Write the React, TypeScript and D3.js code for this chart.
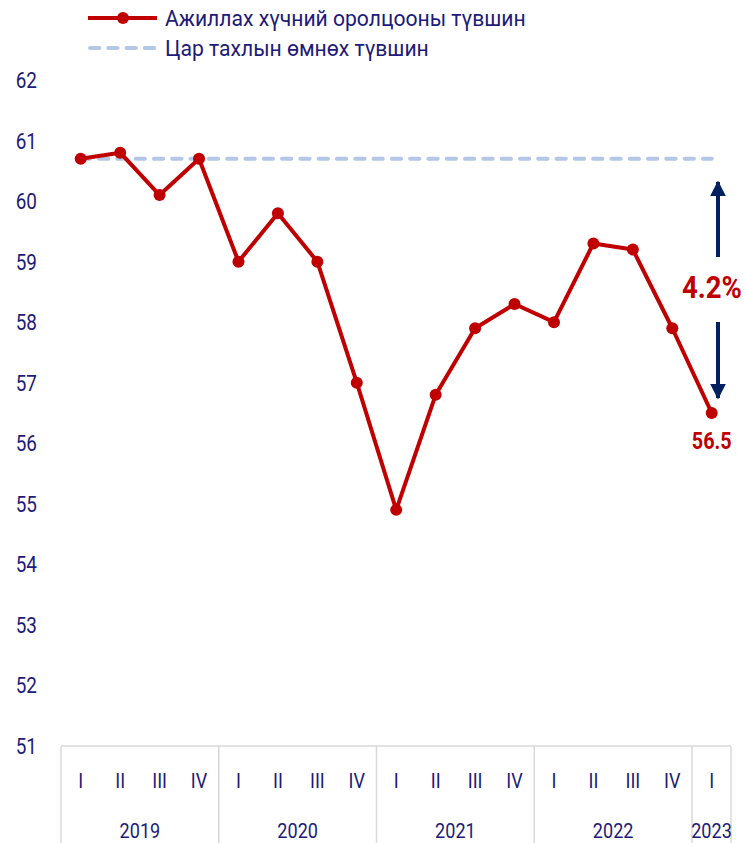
import React from "react";
import * as d3 from "d3";

const quarters = ["I", "II", "III", "IV", "I", "II", "III", "IV", "I", "II", "III", "IV", "I", "II", "III", "IV", "I"];
const years = ["2019", "2020", "2021", "2022", "2023"];
const yearCounts = [4, 4, 4, 4, 1];
const participation = [60.7, 60.8, 60.1, 60.7, 59.0, 59.8, 59.0, 57.0, 54.9, 56.8, 57.9, 58.3, 58.0, 59.3, 59.2, 57.9, 56.5];
const preCovidLevel = 60.7;
const yTicks = [51, 52, 53, 54, 55, 56, 57, 58, 59, 60, 61, 62];
const legendLabels = ["Ажиллах хүчний оролцооны түвшин", "Цар тахлын өмнөх түвшин"];
const gapLabel = "4.2%";
const lastLabel = "56.5";

const W = 745, H = 843;
const left = 61, right = 731, top = 80, bottom = 746;
const RED = "#C00000";
const BLUE = "#B4C7E7";
const NAVY = "#201A78";
const ARROW = "#002060";
const FONT = "Roboto, 'Noto Sans', sans-serif";
const SX = 0.86;

function CText({ x, y, anchor = "start", children, size, weight = 400, fill = NAVY, sx = SX }: any) {
  return (
    <text transform={`translate(${x},${y}) scale(${sx},1)`} textAnchor={anchor} fontSize={size} fontWeight={weight} fill={fill} fontFamily={FONT}>
      {children}
    </text>
  );
}

export default function App() {
  const idx = participation.map((_, i) => i);
  const bw = (692 - left) / 16;
  const xs = d3.scaleBand<number>().domain(idx).range([left, left + bw * 17]);
  const y = d3.scaleLinear().domain([51, 62]).range([bottom, top]);
  const cx = (i: number) => (xs(i) as number) + xs.bandwidth() / 2;
  const line = d3.line<number>().x((_, i) => cx(i)).y((d) => y(d));

  const yearBounds: number[] = [];
  let acc = 0;
  yearBounds.push(xs(0) as number);
  yearCounts.forEach((c) => {
    acc += c;
    yearBounds.push(acc < 17 ? (xs(acc) as number) : right);
  });

  const lastX = cx(participation.length - 1);
  const arrowX = 718;

  return (
    <div style={{ position: "absolute", left: 0, top: 0 }}>
      <svg width={W} height={H} style={{ display: "block", background: "#fff" }}>
        <defs>
          <marker id="ah" viewBox="0 0 10 10" refX="9" refY="5" markerWidth="4" markerHeight="5.5" orient="auto" markerUnits="strokeWidth">
            <path d="M0,0 L10,5 L0,10 z" fill={ARROW} />
          </marker>
        </defs>
        {/* legend */}
        <line x1={88} x2={157} y1={18} y2={18} stroke={RED} strokeWidth={4} />
        <circle cx={123} cy={18} r={6} fill={RED} />
        <CText x={165} y={26} size={22} sx={0.96}>{legendLabels[0]}</CText>
        <line x1={90} x2={157} y1={48} y2={48} stroke={BLUE} strokeWidth={4} strokeDasharray="9.3 9" strokeLinecap="round" />
        <CText x={165} y={56} size={22} sx={0.96}>{legendLabels[1]}</CText>

        {/* y tick labels */}
        {yTicks.map((t) => (
          <CText key={t} x={37} y={y(t) + 8} anchor="end" size={22}>{t}</CText>
        ))}

        {/* category axis box */}
        <line x1={left} x2={right} y1={bottom} y2={bottom} stroke="#D9D9D9" strokeWidth={1.5} />
        {yearBounds.map((b, i) => (
          <line key={i} x1={b} x2={b} y1={bottom} y2={H} stroke="#D9D9D9" strokeWidth={1.5} />
        ))}
        {quarters.map((q, i) => (
          <CText key={i} x={cx(i)} y={788} anchor="middle" size={21}>{q}</CText>
        ))}
        {years.map((yr, i) => (
          <CText key={yr} x={(yearBounds[i] + (i === years.length - 1 ? 731 : yearBounds[i + 1])) / 2} y={838} anchor="middle" size={21}>{yr}</CText>
        ))}

        {/* reference dashed line */}
        <line x1={cx(0)} x2={lastX} y1={y(preCovidLevel)} y2={y(preCovidLevel)} stroke={BLUE} strokeWidth={4} strokeDasharray="9.3 9" strokeLinecap="round" />

        {/* data line */}
        <path d={line(participation) as string} fill="none" stroke={RED} strokeWidth={4} strokeLinejoin="round" />
        {participation.map((v, i) => (
          <circle key={i} cx={cx(i)} cy={y(v)} r={6} fill={RED} />
        ))}

        {/* arrows */}
        <line x1={arrowX} x2={arrowX} y1={257} y2={182} stroke={ARROW} strokeWidth={4} markerEnd="url(#ah)" />
        <line x1={arrowX} x2={arrowX} y1={322} y2={398} stroke={ARROW} strokeWidth={4} markerEnd="url(#ah)" />
        <CText x={712} y={298} anchor="middle" size={32} weight={700} fill={RED}>{gapLabel}</CText>
        <CText x={lastX} y={449} anchor="middle" size={23} weight={700} fill={RED}>{lastLabel}</CText>
      </svg>
    </div>
  );
}
